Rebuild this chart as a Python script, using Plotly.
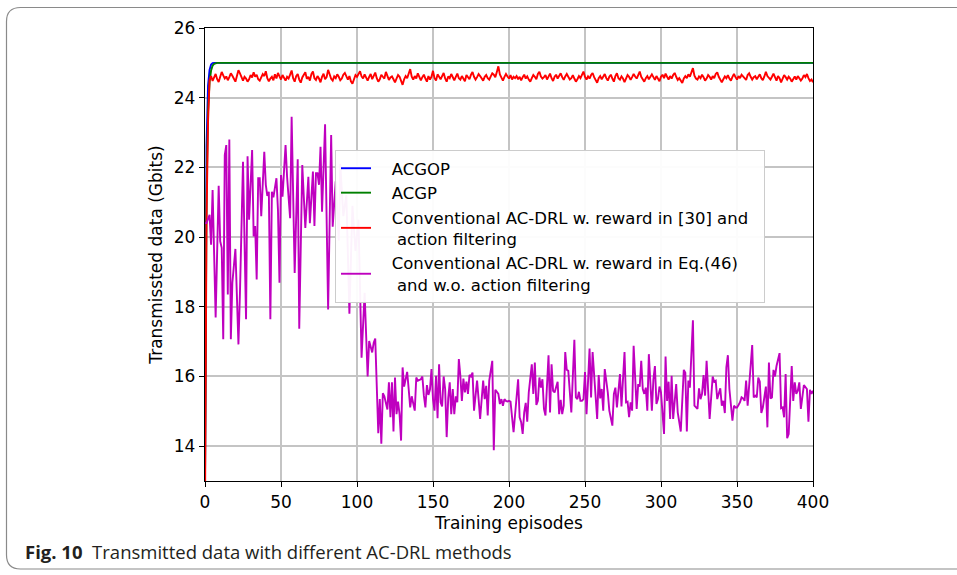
import plotly.graph_objects as go

# ---- data -------------------------------------------------------------
acgop_ep = [0, 1, 2, 3, 4, 5, 6, 400]
acgop_val = [13.0, 22.6, 24.35, 24.8, 24.95, 24.99, 25.0, 25.0]

acgp_ep = [0, 1, 2, 3, 4, 5, 6, 7, 8, 400]
acgp_val = [13.0, 21.2, 23.6, 24.45, 24.78, 24.92, 24.97, 24.99, 25.0, 25.0]

conv30_ep = list(range(401))
conv30_val = [
    12.0, 20.5, 23.3, 24.5,
    24.62, 24.48, 24.58, 24.68, 24.53, 24.45, 24.60, 24.74, 24.64, 24.55, 24.61, 24.50, 24.59, 24.70, 24.63, 24.52, 24.46, 24.62, 24.79, 24.70,
    24.58, 24.49, 24.60, 24.55, 24.46, 24.53, 24.65, 24.58, 24.73, 24.60, 24.66, 24.53, 24.49, 24.60, 24.68, 24.62, 24.76, 24.56, 24.47, 24.55,
    24.60, 24.50, 24.67, 24.55, 24.71, 24.61, 24.52, 24.65, 24.58, 24.49, 24.60, 24.55, 24.66, 24.78, 24.56, 24.46, 24.62, 24.68, 24.52, 24.43,
    24.58, 24.65, 24.73, 24.54, 24.60, 24.49, 24.68, 24.75, 24.56, 24.51, 24.62, 24.55, 24.44, 24.60, 24.69, 24.53, 24.59, 24.80, 24.63, 24.54,
    24.49, 24.61, 24.56, 24.67, 24.60, 24.50, 24.55, 24.66, 24.71, 24.59, 24.52, 24.62, 24.47, 24.40, 24.56, 24.65, 24.60, 24.68, 24.76, 24.61,
    24.55, 24.67, 24.59, 24.49, 24.60, 24.68, 24.53, 24.61, 24.72, 24.56, 24.46, 24.53, 24.66, 24.60, 24.55, 24.74, 24.63, 24.51, 24.58, 24.61,
    24.53, 24.44, 24.55, 24.65, 24.60, 24.49, 24.37, 24.53, 24.62, 24.56, 24.68, 24.82, 24.60, 24.52, 24.62, 24.55, 24.70, 24.61, 24.50, 24.59,
    24.66, 24.55, 24.46, 24.62, 24.52, 24.60, 24.77, 24.56, 24.49, 24.67, 24.60, 24.53, 24.62, 24.71, 24.55, 24.46, 24.61, 24.56, 24.68, 24.59,
    24.50, 24.60, 24.69, 24.56, 24.52, 24.62, 24.55, 24.47, 24.65, 24.60, 24.53, 24.66, 24.74, 24.60, 24.52, 24.59, 24.68, 24.62, 24.55, 24.49,
    24.60, 24.65, 24.56, 24.52, 24.61, 24.70, 24.66, 24.59, 24.74, 24.90, 24.67, 24.56, 24.49, 24.60, 24.68, 24.61, 24.55, 24.65, 24.52, 24.60,
    24.56, 24.62, 24.53, 24.60, 24.50, 24.59, 24.66, 24.55, 24.61, 24.52, 24.46, 24.56, 24.65, 24.60, 24.53, 24.68, 24.74, 24.61, 24.55, 24.59,
    24.65, 24.52, 24.60, 24.69, 24.56, 24.48, 24.60, 24.66, 24.55, 24.62, 24.70, 24.59, 24.51, 24.61, 24.68, 24.60, 24.52, 24.56, 24.65, 24.55,
    24.46, 24.53, 24.62, 24.56, 24.67, 24.75, 24.60, 24.52, 24.61, 24.55, 24.65, 24.71, 24.59, 24.51, 24.43, 24.56, 24.62, 24.53, 24.60, 24.68,
    24.56, 24.49, 24.60, 24.66, 24.55, 24.46, 24.62, 24.70, 24.56, 24.52, 24.61, 24.55, 24.45, 24.53, 24.65, 24.60, 24.51, 24.59, 24.68, 24.61,
    24.55, 24.65, 24.75, 24.60, 24.52, 24.46, 24.56, 24.62, 24.53, 24.60, 24.67, 24.59, 24.51, 24.62, 24.55, 24.47, 24.60, 24.66, 24.56, 24.69,
    24.60, 24.52, 24.62, 24.55, 24.65, 24.71, 24.60, 24.51, 24.56, 24.47, 24.42, 24.55, 24.62, 24.56, 24.67, 24.60, 24.72, 24.85, 24.63, 24.55,
    24.52, 24.61, 24.56, 24.66, 24.59, 24.49, 24.55, 24.65, 24.60, 24.52, 24.62, 24.56, 24.68, 24.73, 24.60, 24.51, 24.44, 24.53, 24.61, 24.56,
    24.65, 24.55, 24.49, 24.60, 24.68, 24.59, 24.52, 24.62, 24.56, 24.66, 24.60, 24.55, 24.51, 24.65, 24.70, 24.60, 24.52, 24.59, 24.62, 24.53,
    24.60, 24.67, 24.56, 24.50, 24.61, 24.74, 24.62, 24.55, 24.52, 24.60, 24.69, 24.59, 24.49, 24.62, 24.56, 24.44, 24.53, 24.65, 24.59, 24.52,
    24.60, 24.55, 24.46, 24.53, 24.61, 24.52, 24.62, 24.56, 24.49, 24.55, 24.65, 24.59, 24.68, 24.56, 24.48, 24.52, 24.44,
]

conv46_ep = [
    0, 1, 3, 4, 5, 7, 9, 10, 11, 12, 13, 14, 15, 16, 17, 18, 20, 22, 23, 25,
    27, 28, 29, 31, 32, 33, 34, 35, 36, 37, 39, 40, 41, 42, 43, 44, 45, 47, 48, 49,
    50, 51, 53, 54, 56, 57, 59, 61, 62, 64, 66, 68, 69, 71, 72, 73, 74, 75, 76, 77,
    79, 81, 83, 84, 86, 88, 89, 91, 93, 95, 97, 99, 101, 103, 105, 107, 108, 110, 111, 112,
    114, 115, 116, 117, 118, 120, 121, 122, 123, 124, 125, 126, 127, 128, 129, 130, 131, 133, 134, 135,
    136, 138, 139, 140, 142, 143, 144, 145, 146, 147, 148, 149, 150, 151, 152, 153, 154, 155, 156, 157,
    158, 159, 160, 161, 162, 163, 164, 165, 166, 167, 168, 169, 170, 171, 172, 173, 174, 175, 176, 177,
    178, 179, 180, 181, 183, 184, 185, 186, 187, 189, 190, 191, 192, 193, 194, 195, 196, 197, 198, 199,
    200, 201, 203, 204, 206, 207, 208, 209, 210, 211, 212, 213, 215, 216, 217, 218, 219, 220, 221, 222,
    223, 224, 226, 227, 228, 229, 230, 232, 233, 234, 235, 236, 237, 238, 239, 241, 243, 244, 245, 246,
    247, 248, 249, 250, 251, 253, 254, 255, 257, 258, 259, 260, 261, 262, 263, 265, 266, 268, 269, 270,
    271, 273, 274, 276, 277, 278, 279, 280, 281, 282, 284, 285, 286, 287, 288, 289, 290, 291, 292, 294,
    295, 296, 297, 298, 299, 300, 302, 303, 304, 305, 306, 307, 308, 310, 311, 313, 315, 316, 317, 318,
    319, 321, 322, 324, 325, 326, 327, 328, 329, 330, 332, 333, 334, 335, 336, 337, 339, 340, 341, 342,
    343, 344, 345, 347, 348, 349, 350, 351, 352, 353, 354, 355, 356, 357, 358, 360, 361, 362, 363, 364,
    365, 366, 367, 369, 370, 371, 372, 373, 374, 375, 376, 378, 379, 380, 381, 382, 383, 384, 386, 387,
    388, 389, 390, 391, 392, 393, 394, 396, 397, 398, 399, 400,
]
conv46_val = [
    20.4, 20.4, 20.64, 19.78, 21.35, 17.69, 21.47, 19.88, 19.69, 17.07, 22.35, 22.64, 18.35, 22.8, 17.07, 18.69, 19.66, 16.92, 18.4, 22.16,
    17.64, 22.32, 20.5, 22.5, 20.02, 20.32, 18.78, 21.69, 21.69, 20.6, 22.45, 21.5, 21.18, 21.3, 17.64, 21.3, 21.14, 21.69, 20.78, 18.69,
    21.78, 21.16, 22.64, 21.73, 20.54, 23.45, 18.97, 22.23, 17.37, 22.07, 20.26, 21.73, 20.4, 21.88, 20.32, 21.83, 21.83, 21.5, 22.59, 20.73,
    23.24, 17.92, 22.93, 20.3, 21.6, 19.9, 22.1, 20.6, 21.2, 17.8, 20.9, 19.6, 20.5, 16.54, 18.4, 16.0, 17.02, 16.69, 16.97, 17.09,
    14.37, 15.35, 14.07, 15.52, 15.43, 15.05, 15.83, 14.83, 15.83, 14.42, 15.97, 14.92, 15.28, 14.92, 14.16, 16.26, 15.71, 16.13, 15.64, 15.11,
    15.43, 15.02, 15.97, 15.88, 15.92, 16.0, 15.45, 15.11, 15.75, 15.47, 15.62, 16.21, 15.35, 15.02, 16.02, 14.8, 16.35, 15.26, 15.14, 16.0,
    15.64, 14.26, 15.37, 15.83, 14.92, 15.64, 14.92, 15.43, 15.26, 16.5, 16.02, 15.3, 15.94, 15.54, 15.85, 15.5, 16.04, 16.0, 16.11, 15.02,
    15.45, 15.88, 15.35, 14.78, 15.88, 15.35, 15.73, 14.88, 15.88, 16.45, 13.88, 15.62, 15.56, 15.5, 15.21, 15.35, 15.16, 15.35, 15.3, 15.28,
    15.3, 15.28, 14.4, 14.97, 15.92, 14.83, 14.69, 14.35, 14.97, 15.24, 14.7, 15.54, 16.35, 15.5, 16.4, 15.18, 15.3, 15.97, 15.68, 15.92,
    15.07, 14.88, 16.61, 14.97, 16.35, 15.59, 15.54, 15.85, 14.92, 15.33, 14.92, 15.16, 16.7, 16.19, 16.16, 14.97, 17.05, 15.4, 15.35, 15.56,
    15.3, 15.3, 15.35, 16.13, 14.92, 16.8, 15.4, 16.7, 15.54, 14.78, 16.04, 15.37, 15.64, 15.02, 16.21, 15.54, 15.02, 14.59, 15.5, 15.68,
    15.11, 16.07, 15.14, 16.7, 15.26, 15.28, 14.83, 15.26, 15.02, 16.88, 15.07, 15.78, 15.71, 16.45, 15.64, 15.5, 15.68, 15.02, 16.64, 15.02,
    15.92, 16.3, 15.21, 15.35, 15.71, 15.54, 14.35, 16.57, 15.3, 15.85, 14.78, 16.02, 14.78, 15.78, 14.97, 14.42, 16.19, 16.11, 14.42, 15.88,
    15.68, 17.61, 15.16, 15.07, 15.66, 15.35, 15.5, 16.04, 15.45, 16.45, 14.78, 15.54, 16.0, 15.85, 15.88, 15.35, 15.66, 15.16, 15.3, 14.95,
    16.26, 16.61, 15.64, 14.73, 15.16, 15.11, 15.11, 15.18, 15.26, 15.4, 15.37, 15.3, 15.88, 15.16, 15.71, 16.9, 15.4, 15.45, 15.4, 15.97,
    15.85, 14.95, 15.11, 15.71, 14.54, 16.4, 15.37, 15.4, 16.19, 16.0, 16.3, 16.67, 15.09, 15.11, 14.83, 16.07, 14.23, 14.35, 16.3, 15.3,
    15.83, 15.5, 15.59, 15.83, 15.07, 15.35, 15.75, 15.64, 14.7, 15.62, 15.5, 15.59,
]

x_ticks = [0, 50, 100, 150, 200, 250, 300, 350, 400]
y_ticks = [14, 16, 18, 20, 22, 24, 26]

pad = "\u00a0\u00a0\u00a0"
series_names = [
    pad + "ACGOP",
    pad + "ACGP",
    pad + "Conventional AC-DRL w. reward in [30] and\u00a0\u00a0<br>" + pad + " action filtering",
    pad + "Conventional AC-DRL w. reward in Eq.(46)<br>" + pad + " and w.o. action filtering",
]
series_colors = ["#0000ff", "#008000", "#ff0000", "#bf00bf"]

caption_bold = "Fig. 10"
caption_text = "Transmitted data with different AC-DRL methods"
x_title = "Training episodes"
y_title = "Transmissted data (Gbits)"

# ---- figure -----------------------------------------------------------
W, H = 957, 575
L, R, T, B = 205, 144, 28, 94
PW, PH = W - L - R, H - T - B

fig = go.Figure()
series = [
    (acgop_ep, acgop_val),
    (acgp_ep, acgp_val),
    (conv30_ep, conv30_val),
    (conv46_ep, conv46_val),
]
for (xs, ys), name, color in zip(series, series_names, series_colors):
    fig.add_trace(go.Scatter(
        x=xs, y=ys, mode="lines", name=name,
        line=dict(color=color, width=1.9),
    ))

def px_x(p):
    return (p - L) / PW

def px_y(p):
    return (H - B - p) / PH

# rounded frame around the whole figure
fx0, fx1, fy0, fy1, rad = 6.5, 975, 7.5, 569, 14
frame = (
    f"M {px_x(fx0)},{px_y(fy0 + rad)} "
    f"Q {px_x(fx0)},{px_y(fy0)} {px_x(fx0 + rad)},{px_y(fy0)} "
    f"L {px_x(fx1)},{px_y(fy0)} "
    f"L {px_x(fx1)},{px_y(fy1)} "
    f"L {px_x(fx0 + rad)},{px_y(fy1)} "
    f"Q {px_x(fx0)},{px_y(fy1)} {px_x(fx0)},{px_y(fy1 - rad)} Z"
)
fig.add_shape(type="path", path=frame, xref="paper", yref="paper",
              line=dict(color="#8a8a8a", width=1.2), layer="below")

fig.add_annotation(
    x=px_x(23), y=px_y(551), xref="paper", yref="paper",
    xanchor="left", yanchor="middle", showarrow=False,
    text=f"<b>{caption_bold}</b>  {caption_text}",
    font=dict(family="Open Sans", size=18.5, color="#231f20"),
)

axis_font = dict(family="DejaVu Sans", size=17, color="black")
axis_common = dict(
    showline=True, linecolor="black", linewidth=1.3, mirror=True,
    ticks="outside", ticklen=5, tickwidth=1.2, tickcolor="black",
    showgrid=True, gridcolor="#c4c4c4", gridwidth=1.6, zeroline=False,
    tickfont=axis_font,
)

fig.update_layout(
    width=W, height=H,
    margin=dict(l=L, r=R, t=T, b=B, autoexpand=False),
    paper_bgcolor="white", plot_bgcolor="white",
    xaxis=dict(range=[0, 400], tickvals=x_ticks,
               title=dict(text=x_title, standoff=6, font=axis_font),
               **axis_common),
    yaxis=dict(range=[13, 26], tickvals=y_ticks,
               title=dict(text=y_title, standoff=6, font=axis_font),
               **axis_common),
    legend=dict(
        x=px_x(335), y=px_y(150), xanchor="left", yanchor="top",
        bgcolor="rgba(255,255,255,0.95)", bordercolor="#cccccc", borderwidth=1,
        font=dict(family="DejaVu Sans", size=16.5, color="black"),
        tracegroupgap=0,
    ),
    showlegend=True,
)

fig.write_html("out.html")
